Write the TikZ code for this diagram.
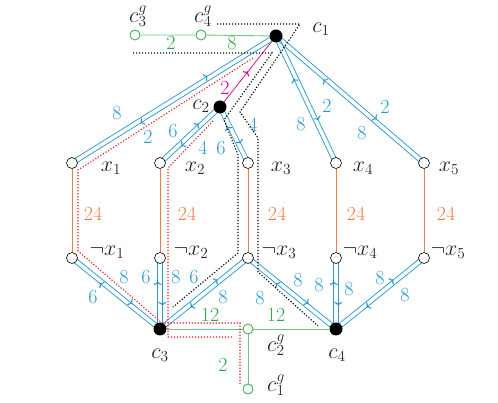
\documentclass[tikz,border=0pt]{standalone}
\usepackage{fix-cm}
\usetikzlibrary{calc,decorations.markings,arrows.meta,backgrounds}
\definecolor{cblue}{RGB}{35,155,215}
\definecolor{corange}{RGB}{240,125,65}
\definecolor{cgreen}{RGB}{40,170,75}
\definecolor{clgreen}{RGB}{110,200,125}
\definecolor{cmag}{RGB}{230,0,135}
\definecolor{cred}{RGB}{235,20,30}
\newcommand\myoff{2.3pt}
\newcommand\myedge[2]{\draw[bline] ($(#1)!\myoff!90:(#2)$) -- ($(#2)!\myoff!-90:(#1)$);}
\tikzset{
  opn/.style={circle,draw=black,fill=white,minimum size=11pt,inner sep=0pt,line width=0.6pt},
  sld/.style={circle,fill=black,minimum size=13pt,inner sep=0pt},
  gopn/.style={circle,draw=cgreen,fill=white,minimum size=10pt,inner sep=0pt,line width=0.8pt},
  tip/.tip={Computer Modern Rightarrow[length=3.5pt,width=8pt,line width=1.1pt]},
  bline/.style={draw=cblue,color=cblue,line width=0.75pt,postaction={decorate},
    decoration={markings,mark=at position 0.67 with {\arrow{tip}}}},
  mline/.style={draw=cmag,color=cmag,line width=0.75pt,postaction={decorate},
    decoration={markings,mark=at position 0.5 with {\arrow{tip}}}},
  gline/.style={draw=clgreen,line width=0.9pt},
  oline/.style={draw=corange,line width=0.8pt},
  rdot/.style={draw=cred,line width=1.1pt,dash pattern=on 1.2pt off 1.8pt},
  kdot/.style={draw=black,line width=1.1pt,dash pattern=on 1.2pt off 1.8pt},
  blab/.style={text=cblue,font=\fontsize{20}{22}\selectfont,inner sep=0pt},
  glab/.style={text=cgreen,font=\fontsize{20}{22}\selectfont,inner sep=0pt},
  olab/.style={text=corange,font=\fontsize{20}{22}\selectfont,inner sep=0pt},
  mlab/.style={text=cmag,font=\fontsize{20}{22}\selectfont,inner sep=0pt},
  nlab/.style={text=black!85,font=\fontsize{22}{24}\selectfont,inner sep=0pt},
}
\begin{document}
\begin{tikzpicture}[x=1pt,y=-1pt]
\useasboundingbox (0,0) rectangle (498,403);
% nodes
\node[gopn] (g3) at (135,35) {};
\node[gopn] (g4) at (201,35) {};
\node[sld] (c1) at (276,36) {};
\node[sld] (c2) at (220,107) {};
\foreach \i/\x in {1/72,2/160,3/248,4/336,5/424}{
  \node[opn] (x\i) at (\x,163) {};
  \node[opn] (n\i) at (\x,258) {};
}
\node[sld] (c3) at (160,329) {};
\node[gopn] (g2) at (248,329) {};
\node[sld] (c4) at (336,329) {};
\node[gopn] (g1) at (248,389) {};
% node labels
\node[nlab] (lg3) at (138,16) {$c^g_3$};
\node[nlab] (lg4) at (203,16) {$c^g_4$};
\node[nlab] (lc1) at (321,29) {$c_1$};
\node[nlab] (lc2) at (201,106) {$c_2$};
\node[nlab] (lc3) at (160,355) {$c_3$};
\node[nlab] (lc4) at (337,355) {$c_4$};
\node[nlab] (lg2) at (276,345) {$c^g_2$};
\node[nlab] (lg1) at (276,385) {$c^g_1$};
\node[nlab] (lx1) at (111,168) {$x_1$};
\node[nlab] (lx2) at (195,168) {$x_2$};
\node[nlab] (lx3) at (281,168) {$x_3$};
\node[nlab] (lx4) at (363,168) {$x_4$};
\node[nlab] (lx5) at (449,168) {$x_5$};
\node[nlab] (ln1) at (107,252) {$\neg x_1$};
\node[nlab] (ln2) at (191,252) {$\neg x_2$};
\node[nlab] (ln3) at (279,252) {$\neg x_3$};
\node[nlab] (ln4) at (360,252) {$\neg x_4$};
\node[nlab] (ln5) at (448,252) {$\neg x_5$};
% edge labels
\node[glab] (e1) at (171,43) {2};
\node[glab] (e2) at (232,43) {8};
\node[glab] (e3) at (210,315) {12};
\node[glab] (e4) at (276,315) {12};
\node[glab] (e5) at (223,365) {2};
\node[mlab] (e6) at (225,88) {2};
\foreach \i/\x in {1/93,2/187,3/277,4/356,5/446}{
  \node[olab] (o\i) at (\x,214) {24};
}
\node[blab] (b1) at (117,113) {8};
\node[blab] (b2) at (148,137) {2};
\node[blab] (b3) at (173,131) {6};
\node[blab] (b4) at (203,148) {4};
\node[blab] (b5) at (221,148) {6};
\node[blab] (b6) at (253,125) {4};
\node[blab] (b7) at (327,106) {2};
\node[blab] (b8) at (301,124) {8};
\node[blab] (b9) at (385,107) {2};
\node[blab] (b10) at (362,133) {8};
\node[blab] (b11) at (93,297) {6};
\node[blab] (b12) at (124,277) {8};
\node[blab] (b13) at (146,277) {6};
\node[blab] (b14) at (176,277) {8};
\node[blab] (b15) at (194,277) {6};
\node[blab] (b16) at (223,297) {8};
\node[blab] (b17) at (298,280) {8};
\node[blab] (b18) at (260,298) {8};
\node[blab] (b19) at (319,285) {8};
\node[blab] (b20) at (349,289) {8};
\node[blab] (b21) at (380,278) {8};
\node[blab] (b22) at (405,295) {8};
% connectors
\begin{pgfonlayer}{background}
\draw[gline] (g3) -- (g4) -- (c1);
\draw[gline] (c3) -- (g2) -- (c4);
\draw[gline] (g2) -- (g1);
\foreach \i in {1,...,5}{\draw[oline] (x\i) -- (n\i);}
\draw[mline] (c2) -- (c1);
\foreach \a/\b in {c1/x1,c2/x2,c2/x3,c1/x4,c1/x5,n1/c3,n2/c3,c3/n3,n3/c4,n4/c4,c4/n5}{
  \myedge{\a}{\b}
  \myedge{\b}{\a}
}
% dotted paths
\draw[rdot] (253,58) -- (78,170) -- (78,251) -- (162,323) -- (240,323) -- (240,385);
\draw[rdot] (213,121) -- (168,168) -- (168,337) -- (233,337);
\draw[kdot] (217,24) -- (300,24) -- (240,112) -- (258,138) -- (258,272) -- (318,326);
\draw[kdot] (133,53) -- (272,53) -- (224,120) -- (238,155) -- (238,253) -- (173,307);
\end{pgfonlayer}
\end{tikzpicture}
\end{document}
